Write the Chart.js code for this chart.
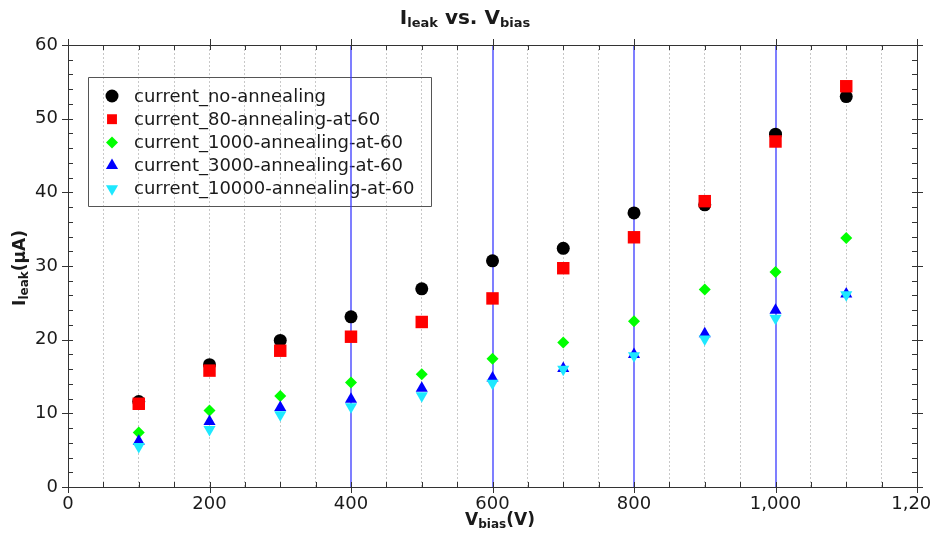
<!DOCTYPE html>
<html>
<head>
<meta charset="utf-8">
<script src="https://cdn.jsdelivr.net/npm/chart.js"></script>
<style>
    body { margin: 0; background: #fff; }
    #wrap { position: relative; width: 930px; height: 534px; font-family: "DejaVu Sans", sans-serif; color: #1a1a1a; }
    #title { position: absolute; left: 0; width: 930px; top: 5px; text-align: center; font-weight: bold; font-size: 20px; }
    #xtitle { position: absolute; left: 420px; width: 160px; top: 509px; text-align: center; font-weight: bold; font-size: 17px; }
    #ytitle { position: absolute; left: -60px; top: 257px; width: 160px; text-align: center; font-weight: bold; font-size: 17px; transform: rotate(-90deg); }
    sub { font-size: 12px; vertical-align: -3px; }
    #title sub { font-size: 13px; }
    canvas { position: absolute; left: 0; top: 0; }
</style>
</head>
<body>
<div id="wrap">
    <canvas id="chart" width="930" height="534"></canvas>
    <div id="title">I<sub>leak</sub> vs. V<sub>bias</sub></div>
    <div id="xtitle">V<sub>bias</sub>(V)</div>
    <div id="ytitle">I<sub>leak</sub>(μA)</div>
</div>
<script>
// bias voltage (V)
const voltages = [100, 200, 300, 400, 500, 600, 700, 800, 900, 1000, 1100];

// leakage current (uA)
const noAnnealing = [11.6, 16.6, 19.9, 23.1, 26.9, 30.7, 32.4, 37.2, 38.3, 47.9, 53.0];
const anneal80 = [11.3, 15.8, 18.5, 20.4, 22.4, 25.6, 29.7, 33.9, 38.8, 46.9, 54.4];
const anneal1000 = [7.4, 10.4, 12.35, 14.2, 15.3, 17.4, 19.6, 22.5, 26.8, 29.2, 33.8];
const anneal3000 = [6.2, 8.9, 10.8, 11.9, 13.4, 14.8, 16.1, 18.0, 20.8, 24.0, 26.2];
const anneal10000 = [5.5, 7.8, 9.8, 10.9, 12.4, 14.1, 16.0, 17.8, 20.1, 22.9, 26.1];

const seriesNames = ['current_no-annealing', 'current_80-annealing-at-60', 'current_1000-annealing-at-60',
    'current_3000-annealing-at-60', 'current_10000-annealing-at-60'];

// blue marker lines on the x axis
const blueLines = [400, 600, 800, 1000];

function toPoints(ys) {
    return voltages.map((v, i) => ({ x: v, y: ys[i] }));
}

const styles = [
    { color: '#000000', pointStyle: 'circle', radius: 6.5, rotation: 0 },
    { color: '#ff0000', pointStyle: 'rect', radius: 8.8, rotation: 0 },
    { color: '#00ff00', pointStyle: 'rectRot', radius: 6, rotation: 0 },
    { color: '#0000ff', pointStyle: 'triangle', radius: 7, rotation: 0 },
    { color: '#1ee8ff', pointStyle: 'triangle', radius: 7, rotation: 180 }
];

const allSeries = [noAnnealing, anneal80, anneal1000, anneal3000, anneal10000];

const datasets = allSeries.map((ys, i) => ({
    label: seriesNames[i],
    data: toPoints(ys),
    pointStyle: styles[i].pointStyle,
    pointRadius: styles[i].radius,
    pointRotation: styles[i].rotation,
    pointBackgroundColor: styles[i].color,
    pointBorderColor: styles[i].color,
    pointBorderWidth: 0,
    showLine: false,
    order: 5 - i
}));

function drawMarker(ctx, st, cx, cy) {
    ctx.fillStyle = st.color;
    ctx.beginPath();
    const r = st.radius;
    if (st.pointStyle === 'circle') {
        ctx.arc(cx, cy, r, 0, Math.PI * 2);
    } else if (st.pointStyle === 'rect') {
        const s = r * Math.SQRT1_2;
        ctx.rect(cx - s, cy - s, 2 * s, 2 * s);
    } else if (st.pointStyle === 'rectRot') {
        ctx.moveTo(cx, cy - r); ctx.lineTo(cx + r, cy); ctx.lineTo(cx, cy + r); ctx.lineTo(cx - r, cy);
    } else {
        const d = st.rotation ? -1 : 1;
        ctx.moveTo(cx, cy - d * r);
        ctx.lineTo(cx + r * 0.866, cy + d * r * 0.5);
        ctx.lineTo(cx - r * 0.866, cy + d * r * 0.5);
    }
    ctx.closePath();
    ctx.fill();
}

// legend box, then blue vertical lines, all behind the points
const underlayPlugin = {
    id: 'underlay',
    beforeDatasetsDraw(chart) {
        const ctx = chart.ctx, x = chart.scales.x, a = chart.chartArea;
        const left = 88, top = 77, w = 343, h = 129;
        ctx.save();
        ctx.strokeStyle = '#555555';
        ctx.lineWidth = 1;
        ctx.beginPath();
        ctx.rect(left + 0.5, top + 0.5, w, h);
        ctx.stroke();
        ctx.font = '18px "DejaVu Sans"';
        ctx.textBaseline = 'middle';
        ctx.textAlign = 'left';
        seriesNames.forEach((name, i) => {
            const cy = top + 19 + i * 23.2;
            const st = Object.assign({}, styles[i], { radius: Math.min(styles[i].radius, 7) });
            drawMarker(ctx, st, left + 24, cy);
            ctx.fillStyle = '#1a1a1a';
            ctx.fillText(name, left + 46, cy + 1);
        });

        ctx.strokeStyle = '#3a3aff';
        ctx.lineWidth = 1.3;
        ctx.setLineDash([]);
        blueLines.forEach(v => {
            const px = Math.round(x.getPixelForValue(v));
            ctx.beginPath();
            ctx.moveTo(px, a.top);
            ctx.lineTo(px, a.bottom);
            ctx.stroke();
        });
        ctx.restore();
    }
};

// frame with inward minor ticks and crossing major ticks
const framePlugin = {
    id: 'frame',
    afterDatasetsDraw(chart) {
        const ctx = chart.ctx, x = chart.scales.x, y = chart.scales.y, a = chart.chartArea;
        ctx.save();
        ctx.strokeStyle = '#333333';
        ctx.lineWidth = 1;
        ctx.setLineDash([]);
        ctx.beginPath();
        ctx.rect(Math.round(a.left) + 0.5, Math.round(a.top) + 0.5,
            Math.round(a.right - a.left), Math.round(a.bottom - a.top));
        for (let v = 0; v <= 1200; v += 50) {
            const px = Math.round(x.getPixelForValue(v)) + 0.5;
            const major = v % 200 === 0;
            ctx.moveTo(px, a.bottom + (major ? 6 : 0));
            ctx.lineTo(px, a.bottom - 5);
            ctx.moveTo(px, a.top - (major ? 6 : 0));
            ctx.lineTo(px, a.top + 5);
        }
        for (let v = 0; v <= 60; v += 2) {
            const py = Math.round(y.getPixelForValue(v)) + 0.5;
            const major = v % 10 === 0;
            ctx.moveTo(a.left - (major ? 6 : 0), py);
            ctx.lineTo(a.left + 5, py);
            ctx.moveTo(a.right + (major ? 6 : 0), py);
            ctx.lineTo(a.right - 5, py);
        }
        ctx.stroke();
        ctx.restore();
    }
};

new Chart(document.getElementById('chart'), {
    type: 'scatter',
    data: { datasets: datasets },
    options: {
        responsive: false,
        animation: false,
        layout: { padding: { left: 0, right: 13, top: 45, bottom: 0 } },
        plugins: {
            legend: { display: false },
            tooltip: { enabled: false },
            title: { display: false }
        },
        scales: {
            x: {
                type: 'linear',
                min: 0,
                max: 1200,
                afterFit(scale) {
                    scale.height = 47;
                    scale.paddingLeft = 0;
                    scale.paddingRight = 0;
                },
                afterBuildTicks(scale) {
                    const t = [];
                    for (let v = 0; v <= 1200; v += 50) t.push({ value: v });
                    scale.ticks = t;
                },
                ticks: {
                    autoSkip: false,
                    maxRotation: 0,
                    padding: 7,
                    color: '#1a1a1a',
                    font: { family: 'DejaVu Sans', size: 18 },
                    callback: v => (v % 200 === 0 ? v.toLocaleString('en-US') : '')
                },
                grid: {
                    drawTicks: false,
                    color: ctx => {
                        const v = ctx.tick ? ctx.tick.value : -1;
                        if (v === 0 || v === 1200 || blueLines.includes(v)) return 'rgba(0,0,0,0)';
                        return '#c8c8c8';
                    },
                    lineWidth: 1
                },
                border: { display: false, dash: [2, 2] }
            },
            y: {
                min: 0,
                max: 60,
                afterFit(scale) {
                    scale.width = 68;
                    scale.paddingTop = 0;
                    scale.paddingBottom = 0;
                },
                ticks: {
                    stepSize: 10,
                    padding: 10,
                    color: '#1a1a1a',
                    font: { family: 'DejaVu Sans', size: 18 }
                },
                grid: { drawOnChartArea: false, drawTicks: false },
                border: { display: false }
            }
        }
    },
    plugins: [underlayPlugin, framePlugin]
});
</script>
</body>
</html>
